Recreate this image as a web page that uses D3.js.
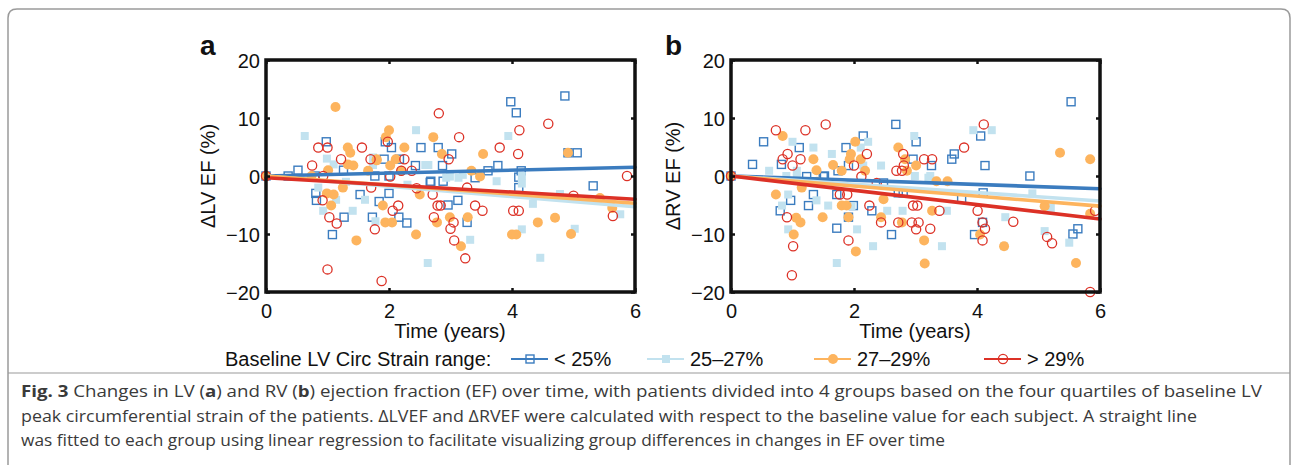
<!DOCTYPE html>
<html>
<head>
<meta charset="utf-8">
<script src="https://cdn.jsdelivr.net/npm/d3@7"></script>
<style>
  body { margin: 0; background: #fff; }
  svg { display: block; }
  .axis-text { font-family: "Liberation Sans", Arial, sans-serif; font-size: 20px; fill: #111; }
  .caption { font-family: "Open Sans", "Noto Sans", sans-serif; font-size: 16px; fill: #3a3a3a; }
</style>
</head>
<body>
<svg id="chart" width="1292" height="465"></svg>
<script>
/*
CHANGE IN LV / RV EJECTION FRACTION OVER TIME, BY BASELINE STRAIN QUARTILE
*/

const groupNames = ["< 25%", "25–27%", "27–29%", "> 29%"];
const groupColors = ["#3b7cbf", "#c2e2ef", "#fdb45e", "#dc3126"];
const groupMarkers = ["openSquare", "filledSquare", "filledCircle", "openCircle"];

const xTicks = [0, 2, 4, 6];
const yTicks = [-20, -10, 0, 10, 20];

// panel a: [time (years), change in LV EF (%)]
const lvLt25 = [[0,0],[0.36,0],[0.52,1.0],[0.98,5.9],[1.26,1.0],[1.77,0],[1.94,5.9],[2.04,4.9],[2.52,4.9],[2.80,4.9],[3.02,3.8],[1.92,2.9],[2.17,2.9],[2.43,1.8],[2.87,1.8],[3.61,0.9],[3.77,1.8],[4.15,0.9],[2.0,0],[2.68,-0.9],[2.88,-0.9],[3.98,12.8],[4.07,10.9],[0.81,-3.0],[0.82,-4.2],[1.53,-3.2],[1.27,-7.1],[1.08,-10.1],[1.73,-7.1],[1.84,-4.4],[0.8,0],[2.0,-3.0],[2.16,-7.1],[2.29,-8.1],[2.67,-1.1],[2.96,-5.0],[3.12,-4.2],[3.27,-8.0],[4.11,-2.0],[4.11,-0.2],[3.4,-0.3],[4.86,13.8],[4.91,4.0],[5.06,4.0],[5.32,-1.7]];
const lv25to27 = [[0,0],[0.63,6.9],[0.99,3.0],[1.1,2.0],[1.74,3.2],[2.44,7.9],[3.94,6.9],[2.59,1.9],[2.64,1.9],[1.74,1.9],[2.99,-0.1],[4.16,0],[3.2,0.2],[0.85,-2.0],[1.14,-4.1],[0.93,-6.0],[1.41,-6.0],[1.61,-4.1],[1.78,-7.8],[2.63,-15.0],[3.32,-11.0],[3.75,-0.9],[4.16,-1.3],[4.16,-9.2],[4.34,-4.8],[2.93,-0.3],[3.13,-0.3],[4.46,-14.1],[5.02,-9.1],[4.78,-3.1],[5.76,-6.6],[2.3,-1.5],[1.3,-1.0]];
const lv27to29 = [[0,0],[1.13,11.9],[1.33,4.9],[1.37,4.0],[1.01,1.0],[1.33,2.0],[1.42,1.8],[1.66,0.9],[1.8,2.7],[0.74,0],[2.0,7.9],[1.95,6.7],[2.72,6.7],[2.25,4.9],[2.86,3.8],[3.53,3.8],[1.8,2.9],[2.11,2.9],[2.02,1.8],[2.2,0.9],[3.34,0.9],[3.48,-0.1],[0.99,-3.0],[1.1,-3.2],[1.06,-5.1],[1.47,-11.1],[1.25,-2.0],[1.9,-5.1],[1.94,-8.0],[2.05,-8.0],[2.44,-10.1],[2.78,-8.0],[2.99,-7.1],[3.17,-12.1],[3.28,-7.1],[2.5,-3.2],[4.0,-10.1],[4.07,-10.1],[4.42,-8.0],[4.91,4.0],[4.7,-7.2],[4.96,-10.0],[5.43,-3.8],[5.63,-5.5]];
const lvGt29 = [[0,0],[0.85,4.9],[1.0,4.9],[1.56,4.9],[1.22,2.9],[1.7,2.9],[0.75,1.8],[0.93,0],[2.81,10.8],[3.14,6.7],[4.12,7.9],[3.8,4.9],[4.1,3.8],[1.98,5.9],[2.25,2.9],[2.97,2.9],[2.2,0.9],[2.37,0.9],[2.02,-0.1],[0.92,-4.2],[1.03,-7.1],[1.15,-8.2],[1.77,-9.2],[1.0,-16.1],[1.88,-18.1],[1.71,-2.0],[2.15,-5.1],[2.06,-6.0],[2.71,-3.2],[2.73,-7.1],[2.79,-5.1],[2.84,-5.1],[3.05,-8.0],[3.0,-9.1],[3.06,-11.1],[3.24,-14.2],[3.4,-5.1],[3.52,-6.0],[3.27,-2.0],[4.02,-6.0],[4.11,-6.0],[2.45,-2.1],[4.59,9.0],[5.87,0],[5.64,-6.9],[5.0,-3.4]];

// panel b: [time (years), change in RV EF (%)]
const rvLt25 = [[0,0],[0.53,5.9],[0.35,2.0],[0.82,2.0],[1.11,4.9],[1.23,-0.1],[1.5,-0.1],[1.74,0.9],[2.68,8.9],[2.15,6.9],[3.01,5.9],[1.87,4.9],[4.06,6.9],[3.63,3.8],[3.59,2.9],[3.26,1.8],[4.13,1.8],[1.91,1.8],[2.96,2.9],[0.8,-6.0],[0.97,-4.2],[1.26,-5.1],[1.34,-3.2],[1.72,-9.0],[1.52,0],[1.99,-5.1],[2.29,-6.0],[1.91,-7.1],[2.61,-10.1],[3.96,-10.1],[4.09,-8.0],[3.75,-4.0],[4.1,-2.9],[2.48,-1.2],[2.72,-2.9],[2.8,-2.9],[1.72,-3.2],[5.53,12.8],[4.86,0],[5.56,-10.0],[5.64,-9.1]];
const rv25to27 = [[0,0],[1.0,5.9],[1.34,4.9],[1.64,3.8],[0.62,0.9],[1.07,0.9],[0.9,0],[2.23,5.9],[2.11,4.9],[2.98,6.9],[3.94,7.9],[4.24,7.9],[2.44,1.8],[2.15,1.8],[2.99,0],[3.24,0],[0.93,-3.2],[0.83,-5.1],[0.93,-9.2],[1.39,-4.2],[1.58,-5.1],[1.72,-15.0],[1.07,-0.3],[1.96,-5.2],[2.05,-9.2],[2.31,-12.1],[2.54,-6.0],[2.79,-6.0],[3.43,-12.1],[3.51,-6.0],[4.46,-7.1],[4.44,-12.1],[3.21,-0.3],[5.1,-9.5],[5.5,-11.5],[5.2,-5.5],[4.9,-3.0]];
const rv27to29 = [[0,0],[0.84,6.9],[1.34,2.9],[1.39,1.0],[1.66,1.9],[2.02,5.9],[2.72,4.9],[1.95,3.8],[2.11,2.9],[1.93,2.9],[1.8,0.9],[2.18,0.9],[2.83,2.9],[3.01,1.8],[2.86,0.9],[3.34,-0.9],[3.52,-0.9],[0.73,-3.2],[1.06,-7.2],[1.13,-8.0],[1.02,-10.1],[1.49,-7.1],[1.15,-2.0],[1.8,-5.1],[1.88,-5.1],[1.91,-7.1],[2.03,-13.0],[2.44,-7.1],[2.48,-4.0],[2.78,-8.0],[3.14,-11.1],[3.15,-15.1],[3.27,-6.0],[4.05,-10.1],[4.44,-12.1],[5.35,4.0],[5.61,-15.0],[5.84,2.9],[5.1,-5.2],[5.84,-6.5],[1.4,-1.0]];
const rvGt29 = [[0,0],[0.73,7.9],[1.21,7.9],[1.54,8.9],[0.84,2.9],[0.92,3.8],[1.13,2.9],[1.0,1.8],[4.11,8.9],[3.79,4.9],[2.21,3.8],[2.8,3.8],[3.14,2.9],[3.27,2.9],[2.0,1.8],[2.81,1.8],[2.69,0.9],[2.78,0.9],[2.12,-0.1],[0.91,-7.1],[1.01,-12.1],[0.99,-17.1],[1.77,-3.2],[1.89,-3.2],[2.25,-5.1],[1.91,-11.1],[2.44,-8.0],[2.72,-8.0],[2.94,-8.0],[3.05,-8.0],[3.01,-9.2],[2.96,-5.1],[3.03,-5.1],[3.24,-9.1],[3.39,-6.0],[4.01,-6.0],[4.09,-8.0],[4.13,-9.1],[4.09,-11.1],[2.37,-1.2],[4.59,-7.9],[5.14,-10.5],[5.22,-11.6],[5.84,-20.0],[5.92,-6.0]];

// fitted lines: value at time 0 and at time 6, one per group
const lvFitEnds = [[0, 1.5], [0, -5.3], [0, -4.7], [-0.3, -4.0]];
const rvFitEnds = [[0, -2.2], [0, -4.3], [0, -5.2], [0, -7.4]];

const captionLines = [
  [["Fig. 3", true], [" Changes in LV (", false], ["a", true], [") and RV (", false], ["b", true], [") ejection fraction (EF) over time, with patients divided into 4 groups based on the four quartiles of baseline LV", false]],
  [["peak circumferential strain of the patients. ΔLVEF and ΔRVEF were calculated with respect to the baseline value for each subject. A straight line", false]],
  [["was fitted to each group using linear regression to facilitate visualizing group differences in changes in EF over time", false]],
];

const svg = d3.select("#chart");

function drawMarker(g, type, color, cx, cy) {
  // one scatter / legend symbol
  if (type === "openSquare" || type === "filledSquare") {
    g.append("rect")
      .attr("x", cx - 4)
      .attr("y", cy - 4)
      .attr("width", 8)
      .attr("height", 8)
      .attr("fill", type === "filledSquare" ? color : "none")
      .attr("stroke", type === "filledSquare" ? "none" : color)
      .attr("stroke-width", 1.4);
  } else {
    g.append("circle")
      .attr("cx", cx)
      .attr("cy", cy)
      .attr("r", type === "filledCircle" ? 5 : 4.6)
      .attr("fill", type === "filledCircle" ? color : "none")
      .attr("stroke", type === "filledCircle" ? "none" : color)
      .attr("stroke-width", 1.3);
  }
}

function drawPanel(left, letter, yTitle, groups, fitEnds) {
  const x = d3.scaleLinear().domain([0, 6]).range([left, left + 369]);
  const y = d3.scaleLinear().domain([-20, 20]).range([292, 60]);
  const panel = svg.append("g");

  // points
  groups.forEach((pts, gi) => {
    const pg = panel.append("g");
    pts.forEach((d) => drawMarker(pg, groupMarkers[gi], groupColors[gi], x(d[0]), y(d[1])));
  });

  // regression lines
  const line = d3.line().x((d) => x(d[0])).y((d) => y(d[1]));
  fitEnds.forEach((e, gi) => {
    panel.append("path")
      .attr("d", line([[0, e[0]], [6, e[1]]]))
      .attr("stroke", groupColors[gi])
      .attr("stroke-width", 3.6)
      .attr("stroke-linecap", "round")
      .attr("fill", "none");
  });

  // axes, ticks on all four sides pointing inward
  const bottom = panel.append("g").attr("transform", "translate(0,292)")
    .call(d3.axisBottom(x).tickValues(xTicks).tickSizeInner(-4).tickSizeOuter(0).tickPadding(12)
      .tickFormat(d3.format("d")));
  const leftAx = panel.append("g").attr("transform", `translate(${left},0)`)
    .call(d3.axisLeft(y).tickValues(yTicks).tickSizeInner(-4).tickSizeOuter(0).tickPadding(6)
      .tickFormat((d) => (d < 0 ? "\u2212" + Math.abs(d) : d)));
  panel.append("g").attr("transform", "translate(0,60)")
    .call(d3.axisTop(x).tickValues(xTicks).tickSizeInner(-4).tickSizeOuter(0).tickFormat(""));
  panel.append("g").attr("transform", `translate(${left + 369},0)`)
    .call(d3.axisRight(y).tickValues(yTicks).tickSizeInner(-4).tickSizeOuter(0).tickFormat(""));

  panel.selectAll(".domain").remove();
  panel.selectAll(".tick line").attr("stroke", "#111").attr("stroke-width", 2.5);
  panel.selectAll(".tick text").attr("class", "axis-text").attr("fill", null);
  bottom.selectAll(".tick text").attr("dy", "0.71em");
  leftAx.selectAll(".tick text").attr("dy", "0.35em");

  panel.append("rect")
    .attr("x", left)
    .attr("y", 60)
    .attr("width", 369)
    .attr("height", 232)
    .attr("fill", "none")
    .attr("stroke", "#111")
    .attr("stroke-width", 3.5);

  panel.append("text")
    .text(letter)
    .attr("x", left - 66)
    .attr("y", 55)
    .attr("class", "axis-text")
    .style("font-size", "28px")
    .style("font-weight", "bold");

  panel.append("text")
    .text(yTitle)
    .attr("class", "axis-text")
    .attr("text-anchor", "middle")
    .attr("transform", `translate(${left - 51},176) rotate(-90)`);

  panel.append("text")
    .text("Time (years)")
    .attr("class", "axis-text")
    .attr("text-anchor", "middle")
    .attr("x", left + 184)
    .attr("y", 338);
}

drawPanel(266, "a", "ΔLV EF (%)", [lvLt25, lv25to27, lv27to29, lvGt29], lvFitEnds);
drawPanel(731, "b", "ΔRV EF (%)", [rvLt25, rv25to27, rv27to29, rvGt29], rvFitEnds);

// legend
const legendX = [511, 647, 814, 984];
const legend = svg.append("g");
legend.append("text")
  .text("Baseline LV Circ Strain range:")
  .attr("class", "axis-text")
  .attr("x", 225)
  .attr("y", 366);
groupNames.forEach((name, i) => {
  const lg = legend.append("g");
  lg.append("line")
    .attr("x1", legendX[i])
    .attr("x2", legendX[i] + 37)
    .attr("y1", 359)
    .attr("y2", 359)
    .attr("stroke", groupColors[i])
    .attr("stroke-width", 2);
  drawMarker(lg, groupMarkers[i], groupColors[i], legendX[i] + 19, 359);
  lg.append("text")
    .text(name)
    .attr("class", "axis-text")
    .attr("x", legendX[i] + 43)
    .attr("y", 366);
});

// frame and caption
svg.append("path")
  .attr("d", "M8,465 L8,18 Q8,9 17,9 L1281,9 Q1290,9 1290,18 L1290,465")
  .attr("fill", "none")
  .attr("stroke", "#9a9a9a")
  .attr("stroke-width", 1.5);
svg.append("line")
  .attr("x1", 8).attr("x2", 1290)
  .attr("y1", 373).attr("y2", 373)
  .attr("stroke", "#9a9a9a")
  .attr("stroke-width", 1.2);

const captionWidths = [1241, 1176, 924];
captionLines.forEach((parts, i) => {
  const t = svg.append("text")
    .attr("class", "caption")
    .attr("x", 21)
    .attr("y", 397 + i * 24.5)
    .attr("textLength", captionWidths[i])
    .attr("lengthAdjust", "spacingAndGlyphs");
  parts.forEach((p) => {
    t.append("tspan").text(p[0]).style("font-weight", p[1] ? "bold" : null);
  });
});
</script>
</body>
</html>
